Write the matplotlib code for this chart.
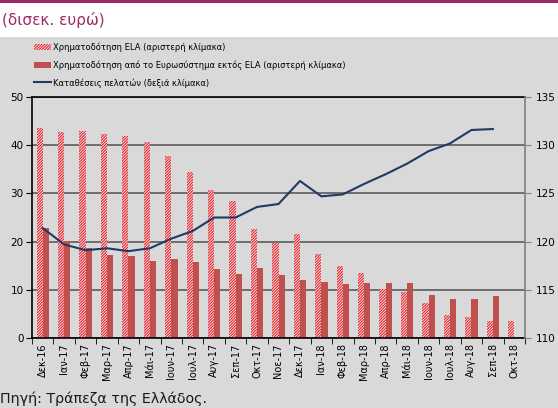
import matplotlib.pyplot as plt
import numpy as np
from matplotlib.patches import Rectangle

months = ["Δεκ-16", "Ιαν-17", "Φεβ-17", "Μαρ-17", "Απρ-17", "Μάι-17", "Ιουν-17",
          "Ιουλ-17", "Αυγ-17", "Σεπ-17", "Οκτ-17", "Νοε-17", "Δεκ-17", "Ιαν-18",
          "Φεβ-18", "Μαρ-18", "Απρ-18", "Μάι-18", "Ιουν-18", "Ιουλ-18", "Αυγ-18",
          "Σεπ-18", "Οκτ-18"]
ela = [43.6, 42.7, 43.0, 42.3, 42.0, 40.6, 37.8, 34.4, 30.8, 28.4, 22.7, 19.8,
       21.5, 17.4, 15.0, 13.4, 10.1, 9.6, 7.3, 4.8, 4.4, 3.5, 3.5]
eurosystem = [22.9, 20.1, 18.6, 17.3, 17.0, 15.9, 16.3, 15.7, 14.3, 13.2, 14.4, 13.0,
              12.0, 11.6, 11.2, 11.3, 11.3, 11.3, 8.9, 8.1, 8.1, 8.6, np.nan]
deposits = [121.4, 119.7, 119.1, 119.3, 119.0, 119.3, 120.3, 121.1, 122.5, 122.5,
            123.6, 123.9, 126.3, 124.7, 124.9, 126.0, 127.0, 128.1, 129.4, 130.2,
            131.6, 131.7, np.nan]

labels = ["Χρηματοδότηση ELA (αριστερή κλίμακα)",
          "Χρηματοδότηση από το Ευρωσύστημα εκτός ELA (αριστερή κλίμακα)",
          "Καταθέσεις πελατών (δεξιά κλίμακα)"]

plt.rcParams['font.family'] = 'DejaVu Sans'
plt.rcParams['hatch.linewidth'] = 0.9

W, H = 558, 408
fig = plt.figure(figsize=(W / 100, H / 100), dpi=100, facecolor='white')

# grey panel and top rule
fig.patches.append(Rectangle((0, 0), 1, (H - 37) / H, transform=fig.transFigure,
                             facecolor='#d9d9d9', edgecolor='none', zorder=-10))
fig.patches.append(Rectangle((0, 1 - 2.5 / H), 1, 2.5 / H, transform=fig.transFigure,
                             facecolor='#9b2d63', edgecolor='none', zorder=-10))
fig.text(2 / W, 1 - 20 / H, "(δισεκ. ευρώ)", color='#9b2d63', fontsize=11, va='center')
fig.text(0, 1 - 399 / H, "Πηγή: Τράπεζα της Ελλάδος.", color='#1a1a1a', fontsize=10.3, va='center')

ax = fig.add_axes([32 / W, (H - 337.7) / H, (525 - 32) / W, (337.7 - 97.3) / H])
ax.set_facecolor('#d9d9d9')
x = np.arange(len(months))
w = 0.29
b1 = ax.bar(x - w / 2, ela, w, facecolor='white', edgecolor='#e2323a', hatch='/' * 12,
            linewidth=0, label=labels[0])
b2 = ax.bar(x + w / 2, eurosystem, w, color='#c0504d', label=labels[1])

ax.set_xlim(-0.5, len(months) - 0.5)
ax.set_ylim(0, 50)
ax.set_yticks(np.arange(0, 51, 10))
ax.set_axisbelow(True)
ax.grid(axis='y', color='#6e6e6e', linewidth=1.4)
ax.set_xticks(x)
ax.set_xticklabels(months, rotation=90, fontsize=7)
ax.set_xticks(np.arange(-0.5, len(months), 1), minor=True)
ax.tick_params(axis='x', which='major', length=0, pad=4)
ax.tick_params(axis='x', which='minor', length=4, color='black')
ax.tick_params(axis='y', length=4, labelsize=7.5, pad=2)
for s in ['left', 'bottom', 'top']:
    ax.spines[s].set_color('black')
    ax.spines[s].set_linewidth(1.2)
ax.spines['right'].set_visible(False)

ax2 = ax.twinx()
line, = ax2.plot(x, deposits, color='#1f3b63', linewidth=1.5, label=labels[2])
ax2.set_ylim(110, 135)
ax2.set_yticks(np.arange(110, 136, 5))
ax2.tick_params(axis='y', length=4, labelsize=7.5, color='#808080', pad=4)
for s in ['left', 'bottom', 'top']:
    ax2.spines[s].set_visible(False)
ax2.spines['right'].set_color('#808080')
ax2.spines['right'].set_linewidth(1.2)

fig.legend([b1, b2, line], labels, loc='upper left', bbox_to_anchor=(31 / W, 1 - 39 / H),
           frameon=False, fontsize=6.0, handlelength=2.0, handleheight=0.8,
           handletextpad=0.25, labelspacing=1.0, borderaxespad=0)

fig.savefig('out.png', dpi=100, facecolor=fig.get_facecolor())
